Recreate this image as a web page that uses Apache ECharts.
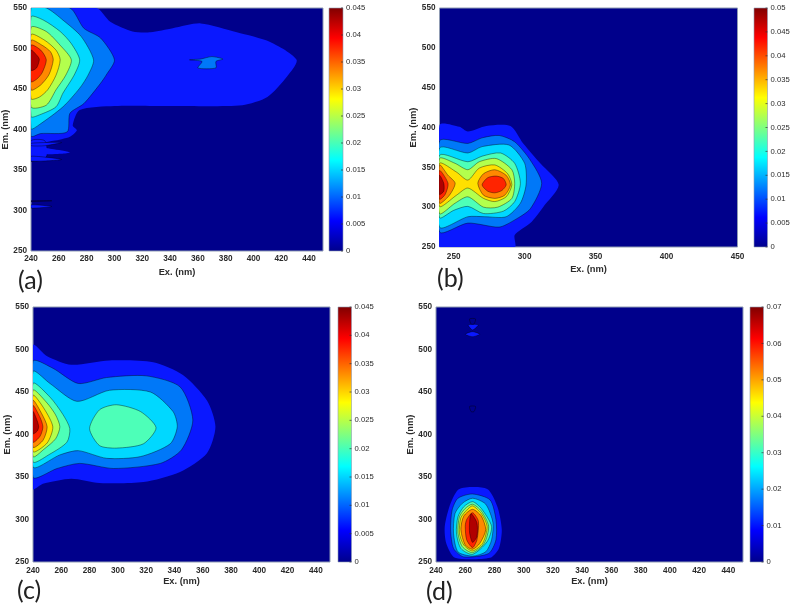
<!DOCTYPE html>
<html><head><meta charset="utf-8">
<style>html,body{margin:0;padding:0;background:#fff}#c{width:794px;height:610px;filter:blur(0.35px)}</style>
<script src="https://cdn.jsdelivr.net/npm/echarts@6/dist/echarts.min.js"></script>
</head><body><div id="c"></div>
<script>
const bandColors=['#00008b','#0a18ff','#0078f8','#00d8ff','#4dffb8','#b3ff4d','#ffe000','#ff8800','#ff2400','#b00000'];
const exTicks20=[240,260,280,300,320,340,360,380,400,420,440];
const exTicks50=[250,300,350,400,450];
const emTicks=[250,300,350,400,450,500,550];
const barTicksA=[0,0.005,0.01,0.015,0.02,0.025,0.03,0.035,0.04,0.045];
const barTicksB=[0,0.005,0.01,0.015,0.02,0.025,0.03,0.035,0.04,0.045,0.05];
const barTicksC=barTicksA;
const barTicksD=[0,0.01,0.02,0.03,0.04,0.05,0.06,0.07];

const contoursA=[
[1,[[240,550],[287,550],[297,533],[313,521],[326,520],[342,525],[362,531],[388,520],[412,508],[431,486],[424,465],[410,440],[392,430],[340,429],[300,429],[275,424],[270,405],[273,399],[268,391],[256,386],[240,384]]],
[1,[[240,386],[250,386],[251,366],[240,361]]],
[1,[[240,383],[262,384],[250,380],[240,380]]],
[1,[[240,378],[255,376],[268,372],[262,370],[240,370]]],
[1,[[240,367],[262,363],[240,361]]],
[1,[[240,307],[255,305],[240,303]]],
[0,[[240,312],[255,312],[240,311]]],
[2,[[240,550],[268,550],[278,525],[290,513],[300,486],[294,467],[290,457],[278,432],[268,420],[266,397],[247,395],[240,392]]],
[2,[[354,486],[362,487],[370,490],[378,487],[373,484],[373,476],[360,476],[363,484]]],
[3,[[240,550],[251,550],[263,535],[276,515],[285,486],[281,467],[275,451],[263,428],[246,406],[240,401]]],
[4,[[240,539],[249,535],[261,521],[269,506],[275,486],[271,467],[263,445],[258,428],[246,418],[240,416]]],
[5,[[240,526],[251,521],[261,504],[269,486],[265,467],[258,449],[251,430],[240,428]]],
[6,[[240,517],[250,510],[258,498],[261,486],[258,467],[252,449],[246,440],[240,438]]],
[7,[[240,510],[248,504],[254,496],[256,486],[253,468],[247,455],[240,449]]],
[8,[[240,504],[247,498],[251,486],[248,470],[244,462],[240,459]]],
[9,[[240,498],[245,490],[246,486],[244,476],[240,473]]]
];
const contoursB=[
[1,[[240,403],[254,401],[260,395],[273,402],[290,402],[299,380],[311,355],[324,328],[313,300],[304,280],[293,265],[293,250],[240,250]]],
[2,[[240,383],[260,380],[270,387],[282,390],[293,382],[304,359],[312,330],[304,298],[293,284],[282,275],[260,280],[240,269]]],
[3,[[240,374],[260,368],[270,376],[289,378],[300,355],[301,328],[297,305],[287,288],[272,288],[260,288],[240,275]]],
[4,[[240,365],[260,357],[270,364],[283,368],[293,355],[297,330],[293,307],[285,295],[271,292],[260,301],[250,296],[240,287]]],
[5,[[240,361],[251,355],[260,347],[268,357],[280,361],[291,347],[293,330],[291,311],[281,300],[271,300],[260,313],[251,305],[240,292]]],
[6,[[240,355],[252,344],[260,334],[268,349],[279,353],[288,342],[291,328],[287,313],[279,307],[271,311],[260,324],[252,315],[240,301]]],
[7,[[240,353],[246,340],[251,330],[247,315],[240,305]]],
[7,[[267,330],[271,342],[279,347],[287,340],[290,328],[286,315],[279,311],[271,315]]],
[8,[[240,346],[246,330],[244,316],[240,310]]],
[8,[[270,328],[274,337],[280,339],[285,336],[287,328],[284,321],[279,318],[274,320]]],
[9,[[240,340],[243,330],[243,320],[240,316]]]
];
const contoursC=[
[1,[[240,505],[250,492],[267,482],[294,487],[325,485],[346,470],[363,440],[369,409],[363,378],[344,356],[318,344],[287,343],[267,348],[247,342],[240,336]]],
[2,[[240,486],[254,478],[272,460],[292,467],[320,469],[344,456],[353,417],[345,382],[330,366],[297,360],[273,366],[257,360],[240,350]]],
[3,[[240,474],[252,460],[271,439],[294,452],[323,450],[339,427],[342,409],[337,389],[316,374],[292,372],[272,381],[259,376],[240,362]]],
[4,[[240,460],[252,444],[261,424],[266,407],[264,391],[252,377],[240,368]]],
[4,[[280,407],[287,429],[299,435],[316,427],[327,408],[318,389],[299,384],[287,387]]],
[5,[[240,452],[250,437],[256,423],[259,409],[256,395],[248,383],[240,374]]],
[6,[[240,446],[248,430],[254,409],[250,390],[240,380]]],
[7,[[240,440],[246,425],[250,409],[247,393],[240,385]]],
[8,[[240,434],[245,420],[247,409],[245,398],[240,391]]],
[9,[[240,427],[243,416],[244,409],[243,404],[240,401]]]
];
const contoursD=[
[1,[[256,336],[275,336],[282,315],[285,288],[283,266],[277,255],[253,255],[247,272],[246,292],[250,319]]],
[2,[[255,325],[265,330],[277,323],[281,300],[281,276],[276,260],[259,256],[252,266],[250,288],[251,311]]],
[3,[[258,319],[265,325],[274,318],[279,296],[278,276],[274,262],[265,257],[255,262],[252,284],[253,307]]],
[4,[[259,315],[265,321],[271,313],[278,292],[275,274],[265,259],[257,266],[254,284],[255,303]]],
[5,[[260,313],[265,318],[271,310],[276,292],[273,272],[265,261],[258,268],[255,284],[256,303]]],
[6,[[261,311],[265,316],[271,307],[275,292],[272,272],[265,263],[259,270],[256,284],[257,302]]],
[7,[[259,304],[265,312],[271,304],[274,288],[270,272],[265,265],[260,270],[257,288]]],
[8,[[261,300],[265,308],[269,298],[268,276],[265,267],[261,276],[260,292]]],
[9,[[263,298],[264,307],[268,296],[268,280],[265,273],[263,284]]],
[1,[[262,529],[269,529],[265,523]]],
[1,[[260,518],[265,521],[270,518],[265,515]]],
[0,[[263,536],[267,536],[266,530],[264,530]]],
[0,[[263,433],[267,433],[266,427],[264,427]]]
];

const panels=[
 {g:[31,8,292,243],b:[329,8,14,243],ticks:exTicks20,contours:contoursA,max:0.045,bar:barTicksA,emGap:15,xm:4,nameGap:17,tag:'(a)',tagPos:[18,268]},
 {g:[439.5,8,298,239],b:[754,8,13.5,239],ticks:exTicks50,contours:contoursB,max:0.05,bar:barTicksB,emGap:18,xm:6,nameGap:18,tag:'(b)',tagPos:[437,266]},
 {g:[33,307,297,255],b:[338,307,13.5,255],ticks:exTicks20,contours:contoursC,max:0.045,bar:barTicksC,emGap:19,xm:5,nameGap:15,tag:'(c)',tagPos:[17,578]},
 {g:[436,307,307,255],b:[750,307,13.5,255],ticks:exTicks20,contours:contoursD,max:0.07,bar:barTicksD,emGap:20,xm:5,nameGap:15,tag:'(d)',tagPos:[426,579]}
];
const labelColor='#2b2b2b', edge='#8f9bb3';
const font='"Liberation Sans",Arial,sans-serif';
const grid=[],xAxis=[],yAxis=[],series=[],graphic=[];
const jet=[[0,'#00008b'],[.125,'#0000ff'],[.375,'#00ffff'],[.625,'#ffff00'],[.875,'#ff0000'],[1,'#800000']];
panels.forEach((p,i)=>{
  const gi=grid.length;
  grid.push({left:p.g[0],top:p.g[1],width:p.g[2],height:p.g[3],outerBoundsMode:'none',show:true,backgroundColor:bandColors[0],borderColor:edge,borderWidth:1});
  grid.push({left:p.b[0],top:p.b[1],width:p.b[2],height:p.b[3],outerBoundsMode:'none',show:false});
  const lab={color:labelColor,fontFamily:font,fontSize:8.2,fontWeight:'bold'};
  const nam={color:labelColor,fontFamily:font,fontSize:9.3,fontWeight:'bold'};
  xAxis.push({type:'value',gridIndex:gi,min:240,max:450,splitLine:{show:false},axisTick:{show:false},axisLine:{show:false},
    axisLabel:Object.assign({customValues:p.ticks,margin:p.xm,formatter:v=>String(v)},lab),
    name:'Ex. (nm)',nameLocation:'middle',nameGap:p.nameGap,nameTextStyle:nam});
  yAxis.push({type:'value',gridIndex:gi,min:250,max:550,splitLine:{show:false},axisTick:{show:false},axisLine:{show:false},
    axisLabel:Object.assign({customValues:emTicks,margin:4,formatter:v=>String(v)},lab),
    name:'Em. (nm)',nameLocation:'middle',nameGap:p.emGap,nameTextStyle:nam});
  xAxis.push({type:'value',gridIndex:gi+1,min:0,max:1,show:false});
  yAxis.push({type:'value',gridIndex:gi+1,position:'right',min:0,max:p.max,splitLine:{show:false},
    axisLine:{show:false},axisTick:{show:false},
    axisLabel:{customValues:p.bar,margin:3,color:labelColor,fontFamily:font,fontSize:7.7,formatter:v=>String(v)}});
  const polys=p.contours;
  series.push({type:'custom',xAxisIndex:gi,yAxisIndex:gi,clip:true,silent:true,animation:false,
    data:polys.map((c,k)=>[k]),encode:{x:[],y:[]},
    renderItem:(params,api)=>{
      const c=polys[api.value(0)];
      const bare=c[0]<=1&&c[1].length>4;
      return {type:'polygon',shape:{points:c[1].map(q=>api.coord(q)),smooth:0.25},
        style:{fill:bandColors[c[0]],stroke:bare?bandColors[c[0]]:'rgba(0,0,0,0.65)',lineWidth:bare?0:0.6}};
    }});
  series.push({type:'custom',xAxisIndex:gi+1,yAxisIndex:gi+1,silent:true,animation:false,
    data:[[0,p.max]],encode:{x:[],y:[]},
    renderItem:(params,api)=>{
      const a=api.coord([0,api.value(1)]),b=api.coord([1,0]);
      const kids=[{type:'rect',shape:{x:a[0],y:a[1],width:b[0]-a[0],height:b[1]-a[1]},
        style:{fill:new echarts.graphic.LinearGradient(0,1,0,0,jet.map(s=>({offset:s[0],color:s[1]}))),stroke:edge,lineWidth:0.6}}];
      p.bar.forEach(v=>{
        const q=api.coord([1,v]);
        kids.push({type:'line',shape:{x1:q[0]-2,y1:q[1],x2:q[0],y2:q[1]},style:{stroke:'#333',lineWidth:0.7}});
      });
      return {type:'group',children:kids};
    }});
  graphic.push({type:'text',left:p.tagPos[0],top:p.tagPos[1],silent:true,style:{text:p.tag,fill:'#222',font:'25px Lato,"Open Sans",sans-serif'}});
});
const chart=echarts.init(document.getElementById('c'),null,{renderer:'canvas',width:794,height:610});
chart.setOption({animation:false,backgroundColor:'#fff',grid,xAxis,yAxis,series,graphic});
</script></body></html>
